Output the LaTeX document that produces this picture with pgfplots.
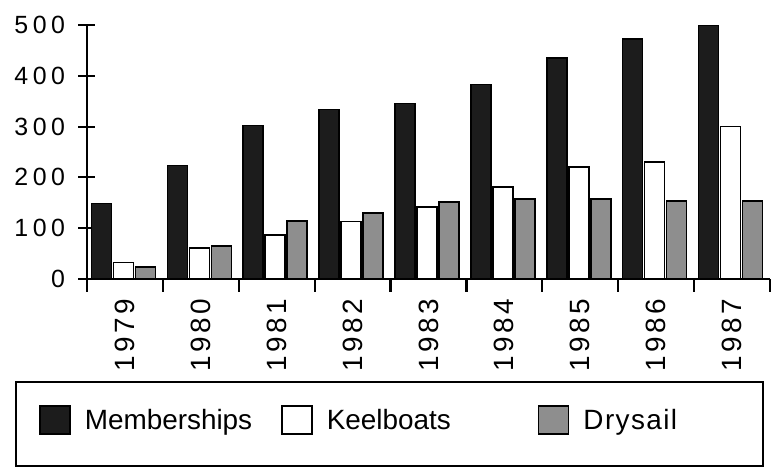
\documentclass[border=0pt]{standalone}
\usepackage{pgfplots}
\pgfplotsset{compat=1.18}
\usepackage{fontspec}
\setmainfont{Liberation Sans}
\newfontfamily\yfont[LetterSpace=18]{Liberation Sans}
\newfontfamily\xfont[LetterSpace=12]{Liberation Sans}
\newfontfamily\lfont{Liberation Sans}
\newfontfamily\dfont[LetterSpace=5]{Liberation Sans}
\definecolor{memb}{HTML}{1C1C1C}
\definecolor{drys}{HTML}{8E8E8E}
\pgfplotstableread{
year M K D
0 148 32 23
1 223 60 65
2 302 86 114
3 334 113 130
4 346 141 151
5 383 181 157
6 436 220 157
7 473 230 153
8 500 300 153
}\datatable
\begin{document}
\begin{tikzpicture}
\begin{axis}[
 name=ax,
 width=683bp, height=253.4bp, scale only axis,
 xmin=-0.5, xmax=8.5, ymin=0, ymax=500,
 axis x line=bottom, axis y line=left,
 axis line style={-, line width=2.2bp},
 ytick={0,100,200,300,400,500},
 yticklabels={0,100,200,300,400,500},
 xtick={0,1,2,3,4,5,6,7,8},
 xticklabels={1979,1980,1981,1982,1983,1984,1985,1986,1987},
 minor xtick={-0.5,0.5,1.5,2.5,3.5,4.5,5.5,6.5,7.5,8.5},
 tick align=center,
 major tick length=17bp,
 minor tick length=13bp,
 tick style={line width=2.2bp, black},
 major x tick style={draw=none},
 yticklabel style={font=\yfont\fontsize{25}{25}\selectfont, anchor=east, xshift=-10bp},
 xticklabel style={font=\xfont\fontsize{28}{28}\selectfont, rotate=90, anchor=east},
 /pgf/number format/assume math mode=true,
 ybar, bar width=20bp,
 legend columns=3,
 legend style={draw=none, fill=none, at={(axis description cs:-0.0703,-0.5576)}, anchor=west,
   font=\lfont\fontsize{28}{28}\selectfont, inner sep=0pt,
   nodes={inner sep=0pt},
   /tikz/every odd column/.append style={column sep=14bp},
   /tikz/every even column/.append style={column sep=29bp}},
 sq/.style={legend image code/.code={\draw[##1,line width=1.6bp] (0bp,-14bp) rectangle (30bp,14bp);}},
]
\addplot[fill=memb, draw=black, line width=1.6bp, bar shift=-23.5bp, sq] table[x=year,y=M]{\datatable};
\addlegendentry{Memberships}
\addplot[fill=white, draw=black, line width=1.6bp, bar shift=-1.5bp, sq] table[x=year,y=K]{\datatable};
\addlegendentry{Keelboats\hspace*{58bp}}
\addplot[fill=drys, draw=black, line width=1.6bp, bar shift=20.5bp, sq] table[x=year,y=D]{\datatable};
\addlegendentry{\dfont Drysail}
\end{axis}
\draw[line width=1.8bp] ([shift={(-71bp,-103.3bp)}]ax.south west) rectangle ([shift={(676bp,-187.3bp)}]ax.south west);
\path[use as bounding box] ([shift={(-87bp,-189.3bp)}]ax.south west) rectangle ([shift={(685bp,278.7bp)}]ax.south west);
\end{tikzpicture}
\end{document}
